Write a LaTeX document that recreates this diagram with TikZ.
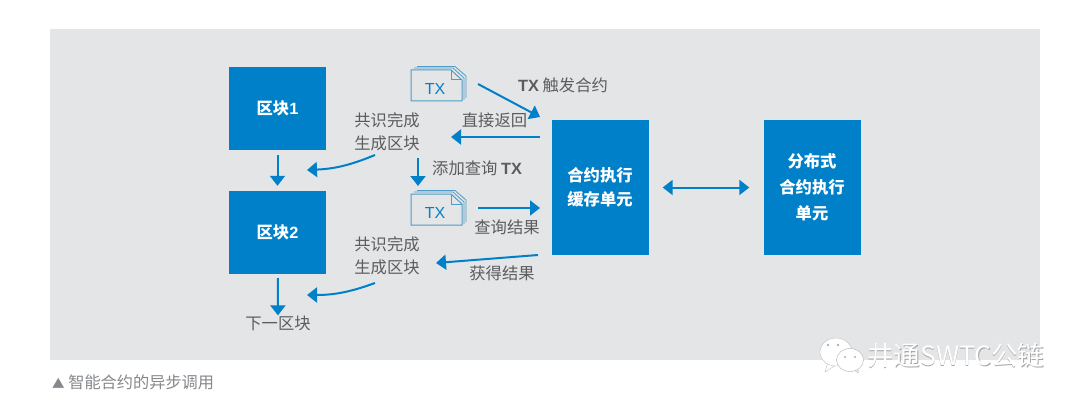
\documentclass[tikz,border=0pt]{standalone}
\usepackage{fontspec}
\setmainfont{Noto Sans CJK SC}
\newfontfamily\latinfont{Liberation Sans}
\usetikzlibrary{arrows.meta, positioning}
\definecolor{chainblue}{HTML}{0080C9}
\definecolor{panelgray}{HTML}{E4E5E7}
\definecolor{labelgray}{HTML}{5C5C5E}
\definecolor{capgray}{HTML}{85888C}
\definecolor{docblue}{HTML}{4F9CC6}
\tikzstyle{unit} = [rectangle, fill=chainblue, text=white, minimum width=97pt, inner sep=0pt, align=center, font=\fontsize{16.3}{26}\selectfont\bfseries]
\tikzstyle{block} = [unit, minimum height=83pt]
\tikzstyle{exec} = [unit, minimum height=135pt]
\tikzstyle{label} = [text=labelgray, inner sep=0pt, align=center, font=\fontsize{16.3}{23}\selectfont]
\tikzstyle{arrow} = [draw=chainblue, line width=2pt, -{Triangle[length=10pt,width=15pt]}]
\tikzstyle{twoway} = [draw=chainblue, line width=2pt, {Triangle[length=10pt,width=15pt]}-{Triangle[length=10pt,width=15pt]}]
\tikzset{
  txdoc/.pic={
    % pages behind, then the front page with its folded corner
    \draw [docblue, line width=0.8pt] (6,-3.5) -- (44,-3.5) -- (55,6) -- (55,28);
    \draw [docblue, line width=0.8pt] (3,-2) -- (42,-2) -- (53,8) -- (53,30);
    \draw [docblue, line width=1pt, fill=panelgray] (0,0) -- (40,0) -- (51,10) -- (51,31) -- (0,31) -- cycle;
    \draw [docblue, line width=1pt] (40,0) -- (40,10) -- (51,10);
    \node (-text) [text=chainblue, inner sep=0pt, font=\fontsize{16}{16}\latinfont] at (24,18.5) {TX};
  }
}
\begin{document}
\begin{tikzpicture}[x=1pt, y=-1pt]
  \useasboundingbox [fill=white] (0,0) rectangle (1080,404);
  \fill [panelgray] (50,29) rectangle (1040,360);

  % Blue units
  \node (blockone) [block] at (277.5,108.5) {区块{\latinfont 1}};
  \node (blocktwo) [block] at (277.5,232.5) {区块{\latinfont 2}};
  \node (cache) [exec] at (600,187.5) {合约执行\\[-2pt]缓存单元};
  \node (dist) [exec] at (812,187.5) {分布式\\合约执行\\单元};

  % Transaction pages
  \pic (doca) at (411,70) {txdoc};
  \pic (docb) at (411,194) {txdoc};

  % Labels
  \node (trigger) [label, anchor=west] at (518,85) {{\latinfont\bfseries TX} 触发合约};
  \node (direct) [label] at (494.5,120) {直接返回};
  \node (doneone) [label] at (387,132) {共识完成\\生成区块};
  \node (addquery) [label, anchor=west] at (432,168) {添加查询 {\latinfont\bfseries TX}};
  \node (queryres) [label] at (507,227) {查询结果};
  \node (donetwo) [label] at (387,256) {共识完成\\生成区块};
  \node (getres) [label] at (502,273) {获得结果};
  \node (next) [label] at (278,323) {下一区块};
  \node (caption) [text=capgray, anchor=west, inner sep=0pt, font=\fontsize{16.2}{18}\selectfont] at (52,382) {{\fontsize{12.5}{12}\selectfont ▲} 智能合约的异步调用};

  % Free ends of the arrows
  \coordinate (trigfrom) at (478,84);
  \coordinate (trigto) at (540,117);
  \coordinate (dirfrom) at (540,137);
  \coordinate (dirto) at (451,137);
  \coordinate (addfrom) at (418,158);
  \coordinate (addto) at (418,186);
  \coordinate (qfrom) at (478,208);
  \coordinate (qto) at (540,208);
  \coordinate (getfrom) at (538,255);
  \coordinate (getto) at (436,263);
  \coordinate (curveone) at (375,155);
  \coordinate (hitone) at (307,170);
  \coordinate (curvetwo) at (375,283);
  \coordinate (hittwo) at (307,295);

  % Arrows
  \draw [arrow, shorten <=5pt, shorten >=5pt] (blockone) -- (blocktwo);
  \draw [arrow, shorten <=4pt] (blocktwo) -- (next);
  \draw [arrow] (trigfrom) -- (trigto);
  \draw [arrow] (dirfrom) -- (dirto);
  \draw [arrow] (addfrom) -- (addto);
  \draw [arrow] (qfrom) -- (qto);
  \draw [arrow] (getfrom) -- (getto);
  \draw [arrow] (curveone) to [bend left=10] (hitone);
  \draw [arrow] (curvetwo) to [bend left=10] (hittwo);
  \draw [twoway, shorten <=14pt, shorten >=14pt] (cache) -- (dist);

  % Watermark
  \filldraw [white, draw=gray!50, line width=0.4pt] (828,362) -- (825,372) -- (836,365) -- cycle;
  \filldraw [white, draw=gray!50, line width=0.4pt] (836,352) ellipse (16 and 14);
  \filldraw [white, draw=gray!60, line width=0.4pt] (859,371) -- (858,373) -- (851,367) -- cycle;
  \filldraw [white, draw=gray!60, line width=0.4pt] (850,360) ellipse (13.5 and 11.5);
  \fill [gray!60] (828,345) circle (1.3) (838,345) circle (1.3) (845,357) circle (1.1) (855,357) circle (1.1);
  \node (markshadow) [text=gray!70, inner sep=0pt, anchor=west, font=\fontsize{26.5}{27}\selectfont] at (867.6,356.6) {井通SWTC公链};
  \node (mark) [text=white, inner sep=0pt, anchor=west, font=\fontsize{26.5}{27}\selectfont] at (867,356) {井通SWTC公链};
\end{tikzpicture}
\end{document}
